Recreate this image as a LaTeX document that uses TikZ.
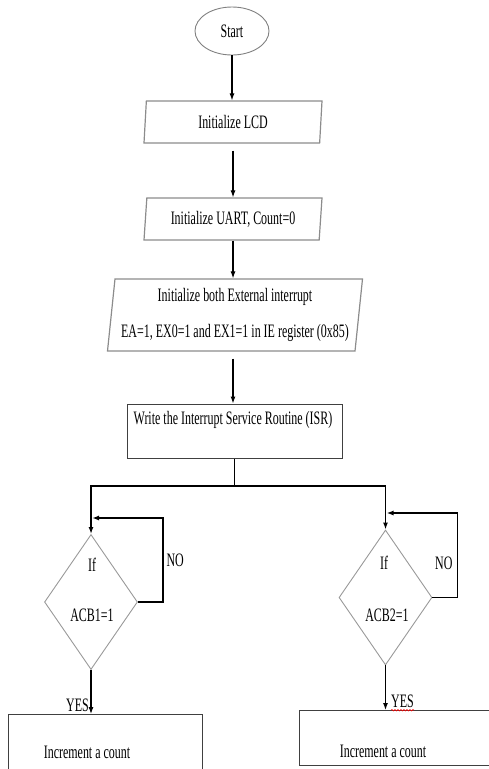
\documentclass[tikz,border=0pt]{standalone}
\usepackage{fontspec}
\setmainfont[FakeStretch=0.63]{Liberation Serif}
\usetikzlibrary{arrows.meta,calc,shapes.geometric,decorations.pathmorphing}

\begin{document}
\begin{tikzpicture}[x=1pt,y=-1pt,>=Latex,font=\fontsize{19}{22}\selectfont,
  flow/.style={line width=1.1pt,-{Latex[length=7pt,width=5pt]}},
  branch/.style={line width=1.8pt,-{Latex[length=7pt,width=5pt]}},
  io/.style={trapezium,draw=gray!90,line width=1.2pt,trapezium left angle=80,
    trapezium right angle=100,trapezium stretches body,minimum height=42pt,inner sep=0pt},
  proc/.style={rectangle,draw=black!75,line width=1pt,inner sep=0pt},
  cond/.style={diamond,draw=gray!80,line width=0.9pt,minimum width=93pt,
    minimum height=135pt,inner sep=0pt}]
  \clip (0,0) rectangle (489,769);
  \useasboundingbox (0,0) rectangle (489,769);

  \node[ellipse,draw=gray,line width=0.9pt,minimum width=74pt,minimum height=48pt,inner sep=0pt]
    (start) at (232,31) {Start};
  \node[io,minimum width=178pt] (lcd) at (233,122) {Initialize LCD};
  \node[io,minimum width=178pt] (uart) at (233,219) {Initialize UART, Count=0};
  \node[io,trapezium left angle=82,trapezium right angle=98,minimum width=255pt,
    minimum height=72pt,align=center] (intr) at (235,315)
    {Initialize both External interrupt\\[14pt]EA=1, EX0=1 and EX1=1 in IE register (0x85)};
  \node[proc,minimum width=215pt,minimum height=54pt] (isr) at (234.5,431) {};
  \node (isrtext) at (233,420) {Write the Interrupt Service Routine (ISR)};

  \draw[flow] (start) -- (start.south |- lcd.north);
  \draw[flow,shorten <=7pt] (lcd.south) -- (lcd.south |- uart.north);
  \draw[flow] (uart.south) -- (uart.south |- intr.north);
  \draw[flow,shorten <=7pt] (uart.south |- intr.south) -- (uart.south |- isr.north);

  % two interrupt branches
  \node[cond] (d1) at (91,602) {};
  \node[cond] (d2) at (385.5,597.5) {};
  \node (if1) at (92,565) {If};
  \node (acb1) at (92,615) {ACB1=1};
  \node (if2) at (384,563) {If};
  \node (acb2) at (387,615) {ACB2=1};

  \coordinate (split) at (isr.south |- 0,486);
  \draw[line width=1.8pt] (isr.south) -- (split);
  \draw[branch] (split) -| (d1.north);
  \draw[branch] (split) -| (d2.north);

  \coordinate (loop1) at ($(d1.north |- 0,518)+(1,0)$);
  \coordinate (loop2) at ($(d2.north |- 0,513)+(1,0)$);
  \draw[branch] (d1.east) -- ++(25,0) |- (loop1);
  \draw[branch] (d2.east) -- ++(25,0) |- (loop2);
  \node[anchor=west] (no1) at (163,560) {NO};
  \node[anchor=east] (no2) at (456,563) {NO};

  \node[proc,minimum width=194pt,minimum height=90pt,anchor=north west] (inc1) at (8,714) {};
  \node (inc1text) at (87,752) {Increment a count};
  \node[proc,minimum width=200pt,minimum height=55pt,anchor=north west] (inc2) at (299,710) {};
  \node (inc2text) at (383,751) {Increment a count};

  \draw[flow] (d1.south) -- (d1.south |- inc1.north);
  \draw[flow] (d2.south) -- (d2.south |- inc2.north);
  \node[anchor=east,inner sep=1pt] (yes1) at (90,705) {YES};
  \node[anchor=west,inner sep=1pt] (yes2) at (390,701) {YES};
  \draw[red,line width=0.6pt,decorate,decoration={snake,amplitude=0.7pt,segment length=3pt}]
    ($(yes2.base west)+(1,3)$) -- ($(yes2.base east)+(-1,3)$);
\end{tikzpicture}
\end{document}
